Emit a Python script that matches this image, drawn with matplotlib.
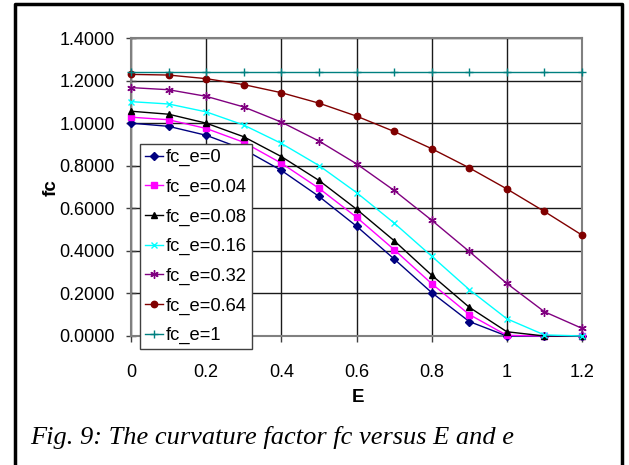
import matplotlib
matplotlib.use("Agg")
import matplotlib.pyplot as plt
from matplotlib.lines import Line2D

E = [0.0, 0.1, 0.2, 0.3, 0.4, 0.5, 0.6, 0.7, 0.8, 0.9, 1.0, 1.1, 1.2]
fc_e0    = [1.000, 0.985, 0.943, 0.877, 0.778, 0.656, 0.516, 0.362, 0.204, 0.068, 0.000, 0.000, 0.000]
fc_e004  = [1.028, 1.016, 0.975, 0.910, 0.812, 0.694, 0.558, 0.406, 0.246, 0.101, 0.003, 0.000, 0.000]
fc_e008  = [1.056, 1.042, 1.000, 0.936, 0.843, 0.731, 0.596, 0.448, 0.286, 0.135, 0.020, 0.000, 0.000]
fc_e016  = [1.101, 1.090, 1.053, 0.991, 0.905, 0.801, 0.674, 0.531, 0.375, 0.218, 0.081, 0.005, 0.000]
fc_e032  = [1.167, 1.157, 1.126, 1.076, 1.005, 0.916, 0.809, 0.684, 0.544, 0.397, 0.247, 0.114, 0.036]
fc_e064  = [1.229, 1.226, 1.209, 1.181, 1.143, 1.094, 1.033, 0.961, 0.880, 0.790, 0.691, 0.585, 0.474]
fc_e1    = [1.241] * 13

labels = ["fc_e=0", "fc_e=0.04", "fc_e=0.08", "fc_e=0.16", "fc_e=0.32", "fc_e=0.64", "fc_e=1"]
series = [fc_e0, fc_e004, fc_e008, fc_e016, fc_e032, fc_e064, fc_e1]
colors = ["#000080", "#FF00FF", "#000000", "#00FFFF", "#800080", "#800000", "#008080"]
markers = ["D", "s", "^", "x", (6, 2, 0), "o", "+"]
msizes = [3.6, 4.6, 5.0, 5.0, 6.0, 4.6, 6.0]

xticks = [0, 0.2, 0.4, 0.6, 0.8, 1.0, 1.2]
xticklabels = ["0", "0.2", "0.4", "0.6", "0.8", "1", "1.2"]
yticks = [0.0, 0.2, 0.4, 0.6, 0.8, 1.0, 1.2, 1.4]
yticklabels = ["0.0000", "0.2000", "0.4000", "0.6000", "0.8000", "1.0000", "1.2000", "1.4000"]

plt.rcParams['font.family'] = ['Liberation Sans', 'DejaVu Sans']

W, H = 629, 465
fig = plt.figure(figsize=(W / 100, H / 100), dpi=100)
fig.patch.set_facecolor("white")

L, R, T, B = 131, 582, 38, 336
ax = fig.add_axes([L / W, 1 - B / H, (R - L) / W, (B - T) / H])

for y, lab, c, m, ms in zip(series, labels, colors, markers, msizes):
    ax.plot(E, y, color=c, lw=1.0, marker=m, markersize=ms, markeredgewidth=1.0,
            markerfacecolor=c, markeredgecolor=c, label=lab, zorder=3, clip_on=False)

ax.set_xlim(0, 1.2)
ax.set_ylim(0, 1.4)
ax.set_xticks(xticks)
ax.set_xticklabels(xticklabels)
ax.set_yticks(yticks)
ax.set_yticklabels(yticklabels)

ax.grid(True, color="#1a1a1a", lw=1.0, zorder=1)
ax.set_axisbelow(True)
for s in ax.spines.values():
    s.set_color("#808080")
    s.set_linewidth(1.5)

ax.tick_params(axis="y", direction="inout", length=7, width=1, color="#404040",
               labelsize=13, pad=8)
ax.tick_params(axis="x", direction="out", length=4, width=1, color="#404040",
               labelsize=13, pad=16)

ax.set_xlabel("E", fontsize=13.5, fontweight="bold")
ax.set_ylabel("fc", fontsize=13.5, fontweight="bold")
ax.xaxis.set_label_coords((358 - L) / (R - L), (B - 389) / (B - T))
ax.yaxis.set_label_coords((60 - L) / (R - L), (B - 188) / (B - T))

leg = ax.legend(loc="upper left", bbox_to_anchor=((140 - L) / (R - L), (B - 144) / (B - T)),
                borderaxespad=0, fontsize=13.2, frameon=True, fancybox=False,
                edgecolor="#404040", handlelength=0.95, handletextpad=0.2,
                labelspacing=0.68, borderpad=0.28, framealpha=1)
leg.get_frame().set_linewidth(1.0)
leg.set_zorder(5)

fig.text(30 / W, 1 - 437 / H, "Fig. 9: The curvature factor fc versus E and e",
         family=["Liberation Serif", "DejaVu Serif"], style="italic", fontsize=19,
         va="center", ha="left")

# outer frame (open at bottom)
fx = [15 / W, 15 / W, 622 / W, 622 / W]
fy = [0, 1 - 4 / H, 1 - 4 / H, 0]
fig.add_artist(Line2D(fx, fy, color="black", lw=2.5, transform=fig.transFigure))

fig.savefig("out.png", dpi=100)
